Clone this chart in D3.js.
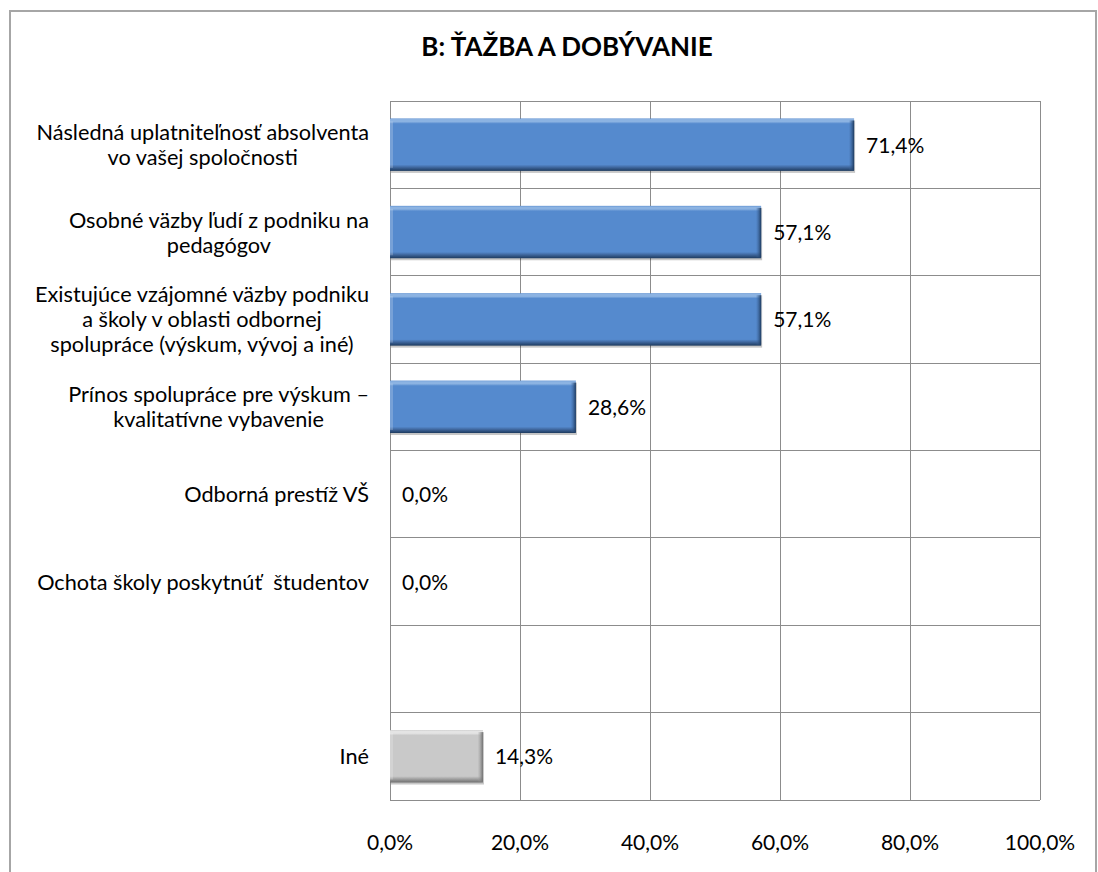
<!DOCTYPE html>
<html><head><meta charset="utf-8">
<script src="https://cdn.jsdelivr.net/npm/d3@7"></script>
<style>
html,body{margin:0;padding:0;background:#fff;}
svg{display:block;font-family:Lato,"Open Sans",sans-serif;}
svg text{white-space:pre;}
</style></head>
<body>
<svg id="chart" width="1098" height="872"></svg>
<script>
const title = "B: ŤAŽBA A DOBÝVANIE";
const categories = [
  ["Následná uplatniteľnosť absolventa","vo vašej spoločnosti"],
  ["Osobné väzby ľudí z podniku na","pedagógov"],
  ["Existujúce vzájomné väzby podniku","a školy v oblasti odbornej","spolupráce (výskum, vývoj a iné)"],
  ["Prínos spolupráce pre výskum –","kvalitatívne vybavenie"],
  ["Odborná prestíž VŠ"],
  ["Ochota školy poskytnúť  študentov"],
  [""],
  ["Iné"]
];
const values = [71.4, 57.1, 57.1, 28.6, 0.0, 0.0, null, 14.3];
const seriesType = ["blue","blue","blue","blue","blue","blue","none","gray"];
const xTicks = [0,20,40,60,80,100];

const svg = d3.select("#chart");
const margin = {left:390, right:1040, top:101, bottom:800};
const FS = 21, LFS = 21.7;

// outer border
svg.append("rect").attr("x",10).attr("y",11).attr("width",1086).attr("height",900)
  .attr("fill","#fff").attr("stroke","#a6a6a6").attr("stroke-width",2);

svg.append("text").attr("x",567).attr("y",56).attr("text-anchor","middle")
  .attr("font-size",26).attr("font-weight","bold").attr("fill","#000").text(title);

const x = d3.scaleLinear().domain([0,100]).range([margin.left, margin.right]);
const y = d3.scaleBand().domain(d3.range(categories.length)).range([margin.top, margin.bottom]).paddingInner(0.4).paddingOuter(0.2);
const yb = d3.scaleBand().domain(d3.range(categories.length)).range([margin.top, margin.bottom]);

const defs = svg.append("defs");
function grads(id, top, mid, bot, dark){
  const g = defs.append("linearGradient").attr("id",id+"V").attr("x1",0).attr("y1",0).attr("x2",0).attr("y2",1);
  g.append("stop").attr("offset","0%").attr("stop-color",mid);
  g.append("stop").attr("offset","2%").attr("stop-color",top);
  g.append("stop").attr("offset","6%").attr("stop-color",top);
  g.append("stop").attr("offset","10%").attr("stop-color",mid);
  g.append("stop").attr("offset","88%").attr("stop-color",mid);
  g.append("stop").attr("offset","93%").attr("stop-color",bot);
  g.append("stop").attr("offset","100%").attr("stop-color",dark);
  const h = defs.append("linearGradient").attr("id",id+"R").attr("x1",0).attr("y1",0).attr("x2",1).attr("y2",0);
  h.append("stop").attr("offset","0%").attr("stop-color",bot).attr("stop-opacity",0.1);
  h.append("stop").attr("offset","100%").attr("stop-color",dark);
}
grads("blue","#8cb3e2","#558ace","#40689f","#1d3a5e");
grads("gray","#e4e4e4","#c9c9c9","#a3a3a3","#6e6e6e");

// gridlines
const grid = svg.append("g");
grid.selectAll("line.v").data(xTicks).join("line")
  .attr("x1",d=>x(d)).attr("x2",d=>x(d)).attr("y1",margin.top).attr("y2",margin.bottom)
  .attr("stroke","#8c8c8c").attr("stroke-width",1).attr("shape-rendering","crispEdges");
grid.selectAll("line.h").data(d3.range(categories.length+1)).join("line")
  .attr("x1",margin.left).attr("x2",margin.right)
  .attr("y1",d=> d<categories.length ? yb(d) : margin.bottom)
  .attr("y2",d=> d<categories.length ? yb(d) : margin.bottom)
  .attr("stroke","#8c8c8c").attr("stroke-width",1).attr("shape-rendering","crispEdges");

// x axis labels
svg.append("g").selectAll("text").data(xTicks).join("text")
  .attr("x",d=>x(d)).attr("y",850).attr("text-anchor","middle").attr("font-size",FS).attr("fill","#000")
  .text(d=>d.toFixed(1).replace(".",",")+"%");

// bars
const bars = svg.append("g");
categories.forEach((c,i)=>{
  const v = values[i];
  if(v===null || v<=0 || seriesType[i]==="none") return;
  const t = seriesType[i];
  const x0 = x(0), w = x(v)-x(0), y0 = y(i), h = y.bandwidth();
  const g = bars.append("g");
  g.append("rect").attr("x",x0+1).attr("y",y0+2).attr("width",w).attr("height",h).attr("fill","#000").attr("opacity",0.22);
  g.append("rect").attr("x",x0).attr("y",y0).attr("width",w).attr("height",h).attr("fill",`url(#${t}V)`);
  g.append("rect").attr("x",x0+w-5).attr("y",y0+2).attr("width",5).attr("height",h-3).attr("fill",`url(#${t}R)`);
  g.append("rect").attr("x",x0).attr("y",y0+3).attr("width",3).attr("height",h-6).attr("fill","#fff").attr("opacity",0.2);
});

// value labels
svg.append("g").selectAll("text").data(values.map((v,i)=>({v,i})).filter(d=>d.v!==null)).join("text")
  .attr("x",d=>x(d.v)+12).attr("y",d=>yb(d.i)+yb.bandwidth()/2+8)
  .attr("font-size",FS).attr("fill","#000")
  .text(d=>d.v.toFixed(1).replace(".",",")+"%");

// category labels
const labG = svg.append("g");
const lineH = 25, right = 369;
categories.forEach((lines,i)=>{
  const g = labG.append("g");
  const ts = lines.map(l=>g.append("text").attr("font-size",LFS).attr("fill","#000").attr("text-anchor","middle").text(l));
  const maxW = d3.max(ts, t=>t.node().getComputedTextLength());
  const cx = right - maxW/2;
  const cy = yb(i)+yb.bandwidth()/2;
  const n = lines.length;
  ts.forEach((t,k)=>{
    t.attr("x",cx).attr("y", cy + (k-(n-1)/2)*lineH + 8);
  });
});
</script>
</body></html>
